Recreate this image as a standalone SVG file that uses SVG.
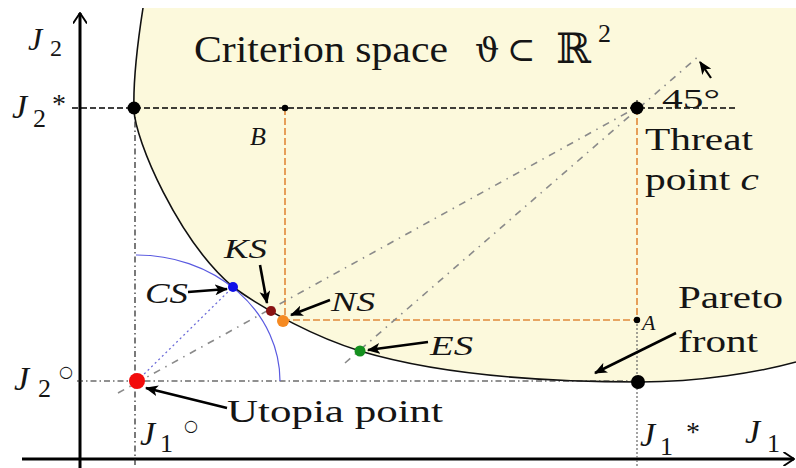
<svg xmlns="http://www.w3.org/2000/svg" width="796" height="468" viewBox="0 0 796 468">
<style>
.t{font-family:"Liberation Serif","Times New Roman",serif;fill:#151515}
.it{font-style:italic}
.m{font-family:"DejaVu Serif",serif;fill:#151515}
.ax{stroke:#000;stroke-width:3;fill:none}
.blk{stroke:#000;stroke-width:1.4;fill:none;stroke-dasharray:6 3}
.dd{stroke:#222;stroke-width:1.2;fill:none;stroke-dasharray:6 3 1.5 3}
.or{stroke:#e0893a;stroke-width:1.6;fill:none;stroke-dasharray:7 3}
.gr{stroke:#8a8a8a;stroke-width:1.6;fill:none;stroke-dasharray:7 6 1.5 6}
.ar{stroke:#000;stroke-width:2.6;fill:none;marker-end:url(#ah)}
</style>
<defs>
<marker id="ah" viewBox="0 0 12 10" refX="11" refY="5" markerWidth="13" markerHeight="11" markerUnits="userSpaceOnUse" orient="auto"><path d="M0,0 L12,5 L0,10 L3,5 z" fill="#000"/></marker>
<marker id="axh" viewBox="0 0 10 12" refX="9" refY="6" markerWidth="12" markerHeight="14" markerUnits="userSpaceOnUse" orient="auto"><path d="M0,0 L9,6 L0,12" fill="none" stroke="#000" stroke-width="1.6"/></marker>
</defs>
<rect width="796" height="468" fill="#fff"/>
<g id="criterion-space">
<path d="M143,8 C138,40 133,80 134,110 C135,140 178,240 233,287 C268,312 315,337 360,351 C450,378 560,382 640,382 C700,382 760,372 796,362 L796,8 Z" fill="#fcf9dc"/>
<path d="M143,8 C138,40 133,80 134,110 C135,140 178,240 233,287 C268,312 315,337 360,351 C450,378 560,382 640,382 C700,382 760,372 796,362" fill="none" stroke="#111" stroke-width="1.6"/>
</g>
<g id="axes">
<line class="ax" x1="80" y1="468" x2="80" y2="13" marker-end="url(#axh)"/>
<line class="ax" x1="22" y1="459" x2="794" y2="459" marker-end="url(#axh)"/>
</g>
<g id="connectors">
<line class="blk" x1="72" y1="108" x2="735" y2="108"/>
<line class="dd" x1="135" y1="108" x2="135" y2="468"/>
<line class="dd" x1="77" y1="381" x2="640" y2="381"/>
<line class="dd" x1="637" y1="100" x2="637" y2="108"/>
<line class="or" x1="637" y1="108" x2="637" y2="320"/>
<line stroke="#666" stroke-width="1.2" stroke-dasharray="2 2" x1="637" y1="320" x2="637" y2="468"/>
<path class="or" d="M285,108 L285,320 L637,320"/>
<line class="gr" x1="118" y1="393" x2="632" y2="110"/>
<line class="gr" x1="345" y1="363" x2="700" y2="55"/>
<line stroke="#6a6ad8" stroke-width="1.3" stroke-dasharray="2 3" x1="137" y1="381" x2="233" y2="287"/>
<path d="M136,255 A143,126 0 0 1 280,381" fill="none" stroke="#5a5ae0" stroke-width="1.2"/>
<line class="ar" x1="188" y1="292" x2="227" y2="289"/>
<line class="ar" x1="260" y1="265" x2="267" y2="303"/>
<line class="ar" x1="330" y1="300" x2="291" y2="315"/>
<line class="ar" x1="428" y1="342" x2="368" y2="350"/>
<line class="ar" x1="676" y1="333" x2="595" y2="373"/>
<line class="ar" x1="227" y1="408" x2="146" y2="388"/>
<line stroke="#000" stroke-width="2.2" x1="711" y1="78" x2="700" y2="62" marker-end="url(#ah)"/>
</g>
<g id="point-j2star"><circle cx="134" cy="108" r="6.5" fill="#000"/></g>
<g id="threat-point"><circle cx="637" cy="108" r="6.5" fill="#000"/>
<text class="t" x="645" y="150" font-size="32" textLength="108" lengthAdjust="spacingAndGlyphs">Threat</text>
<text class="t" x="645" y="190" font-size="32" textLength="114" lengthAdjust="spacingAndGlyphs">point <tspan class="it">c</tspan></text></g>
<g id="point-b"><circle cx="285" cy="108" r="3.2" fill="#000"/><text class="t it" x="250" y="145" font-size="26">B</text></g>
<g id="point-a"><circle cx="637" cy="320" r="3.2" fill="#000"/><text class="t it" x="642" y="330" font-size="22">A</text></g>
<g id="point-j1star"><circle cx="638" cy="382" r="7" fill="#000"/></g>
<g id="utopia"><circle cx="137" cy="381" r="8" fill="#f20c0c"/>
<text class="t" x="227" y="422" font-size="31" textLength="216" lengthAdjust="spacingAndGlyphs">Utopia point</text></g>
<g id="cs"><circle cx="233" cy="287" r="5" fill="#1010e8"/><text class="t it" x="145" y="303" font-size="30" textLength="43" lengthAdjust="spacingAndGlyphs">CS</text></g>
<g id="ks"><circle cx="271" cy="311" r="5" fill="#8a1212"/><text class="t it" x="224" y="258" font-size="28" textLength="43" lengthAdjust="spacingAndGlyphs">KS</text></g>
<g id="ns"><circle cx="283" cy="321" r="6" fill="#f58a22"/><text class="t it" x="331" y="311" font-size="28" textLength="44" lengthAdjust="spacingAndGlyphs">NS</text></g>
<g id="es"><circle cx="360" cy="351" r="5.5" fill="#15901f"/><text class="t it" x="430" y="355" font-size="28" textLength="43" lengthAdjust="spacingAndGlyphs">ES</text></g>
<g id="pareto"><text class="t" x="678" y="308" font-size="32" textLength="105" lengthAdjust="spacingAndGlyphs">Pareto</text>
<text class="t" x="678" y="352" font-size="32" textLength="80" lengthAdjust="spacingAndGlyphs">front</text></g>
<g id="labels">
<text class="t" x="194" y="62" font-size="38" textLength="254" lengthAdjust="spacingAndGlyphs">Criterion space</text>
<text class="m" x="475" y="62" font-size="34">ϑ</text>
<text class="m" x="507" y="61" font-size="34">⊂</text>
<text class="m" x="556" y="63" font-size="42">ℝ</text>
<text class="t" x="598" y="42" font-size="26">2</text>
<text class="t" x="662" y="108" font-size="28" textLength="58" lengthAdjust="spacingAndGlyphs">45°</text>
<text class="t it" x="28" y="50" font-size="32">J</text><text class="t" x="50" y="56" font-size="24">2</text>
<text class="t it" x="12" y="118" font-size="34">J</text><text class="t" x="33" y="127" font-size="26">2</text><text class="t" x="52" y="113" font-size="28">*</text>
<text class="t it" x="14" y="390" font-size="34">J</text><text class="t" x="38" y="397" font-size="26">2</text><text class="m" x="59" y="377" font-size="16">○</text>
<text class="t it" x="140" y="445" font-size="34">J</text><text class="t" x="160" y="452" font-size="26">1</text><text class="m" x="184" y="431" font-size="16">○</text>
<text class="t it" x="640" y="446" font-size="34">J</text><text class="t" x="660" y="455" font-size="26">1</text><text class="t" x="686" y="441" font-size="28">*</text>
<text class="t it" x="745" y="443" font-size="34">J</text><text class="t" x="767" y="452" font-size="26">1</text>
</g>
</svg>
